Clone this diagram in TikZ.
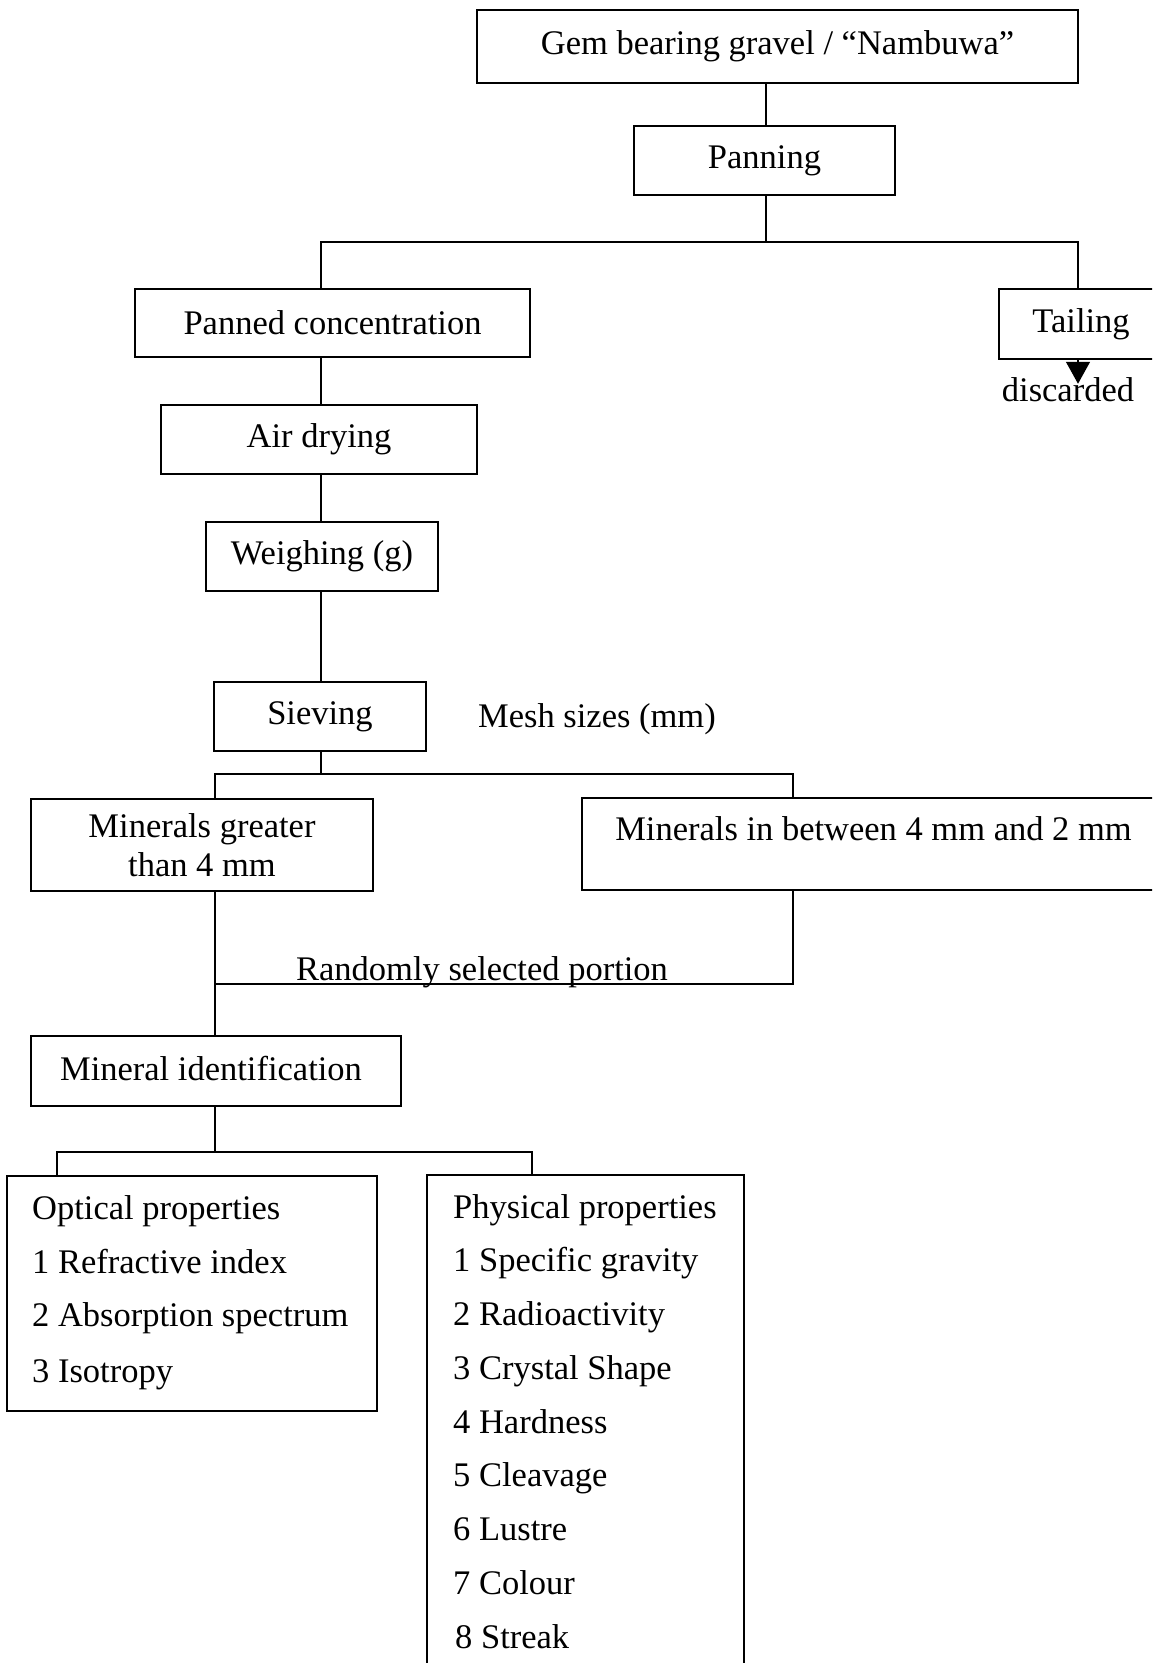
\documentclass[tikz,border=0pt]{standalone}
\usepackage{fontspec}
\setmainfont{Liberation Serif}
\usetikzlibrary{arrows.meta}
\begin{document}
\begin{tikzpicture}[x=1pt,y=-1pt,
  every node/.style={font=\fontsize{34.5}{40}\selectfont, inner sep=0pt},
  box/.style={draw, line width=1.5pt},
  conn/.style={line width=1.5pt},
  item/.style={anchor=base west}]
\useasboundingbox (0,0) rectangle (1152,1663);
\clip (0,0) rectangle (1152,1663);
\fill[white] (0,0) rectangle (1152,1663);

% boxes
\node[box, minimum width=601pt, minimum height=73pt] (gem) at (777.5,46.5) {Gem bearing gravel / “Nambuwa”};
\node[box, minimum width=261pt, minimum height=69pt] (pan) at (764.5,160.5) {Panning};
\node[box, minimum width=395pt, minimum height=68pt] (pc) at (332.5,323) {Panned concentration};
\node[box, minimum width=164pt, minimum height=70pt] (tail) at (1081,324) {Tailing};
\node (disc) at (1068,390) {discarded};
\node[box, minimum width=316pt, minimum height=69pt] (air) at (319,439.5) {Air drying};
\node[box, minimum width=232pt, minimum height=69pt] (wei) at (322,556.5) {Weighing (g)};
\node[box, minimum width=212pt, minimum height=69pt] (sie) at (320,716.5) {Sieving};
\node (mesh) at (597,719) {Mesh sizes (mm)};
\node[box, minimum width=342pt, minimum height=92pt, align=center] (mg) at (202,845) {Minerals greater\\[-1pt]than 4 mm};
\node[box, minimum width=583pt, minimum height=92pt] (mbx) at (873.5,844) {};
\node (mbt) at (873.5,829) {Minerals in between 4 mm and 2 mm};
\node (rand) at (482,972) {Randomly selected portion};
\node[box, minimum width=370pt, minimum height=70pt] (mi) at (216,1071) {};
\node (mit) at (211,1069) {Mineral identification};
\node[box, minimum width=370pt, minimum height=235pt] (opt) at (192,1293.5) {};
\node[box, minimum width=317pt, minimum height=525pt] (phy) at (585.5,1437.5) {};

% optical list
\node[item] (o0) at (32,1219) {Optical properties};
\node[item] (o1) at (32,1273) {1 Refractive index};
\node[item] (o2) at (32,1326) {2 Absorption spectrum};
\node[item] (o3) at (32,1382) {3 Isotropy};

% physical list
\node[item] (p0) at (453,1218) {Physical properties};
\node[item] (p1) at (453,1271.75) {1 Specific gravity};
\node[item] (p2) at (453,1325.5) {2 Radioactivity};
\node[item] (p3) at (453,1379.25) {3 Crystal Shape};
\node[item] (p4) at (453,1433) {4 Hardness};
\node[item] (p5) at (453,1486.75) {5 Cleavage};
\node[item] (p6) at (453,1540.5) {6 Lustre};
\node[item] (p7) at (453,1594.25) {7 Colour};
\node[item] (p8) at (455,1648) {8 Streak};

% junction coordinates
\coordinate (j1) at (766,242);
\coordinate (jl) at (321,242);
\coordinate (jr) at (1078,242);
\coordinate (s1) at (321,774);
\coordinate (sl) at (215,774);
\coordinate (sr) at (793,774);
\coordinate (r1) at (793,984);
\coordinate (r2) at (215,984);
\coordinate (m1) at (215,1152);
\coordinate (ml) at (57,1152);
\coordinate (mr) at (532,1152);

% connectors
\draw[conn] (j1 |- gem.south) -- (j1 |- pan.north);
\draw[conn] (j1 |- pan.south) -- (j1);
\draw[conn] (jl |- pc.north) -- (jl) -- (jr) -- (jr |- tail.north);
\draw[conn, -{Triangle[length=22pt,width=24pt]}] (jr |- tail.south) -- ++(0,24);
\draw[conn] (jl |- pc.south) -- (jl |- air.north);
\draw[conn] (jl |- air.south) -- (jl |- wei.north);
\draw[conn] (jl |- wei.south) -- (jl |- sie.north);
\draw[conn] (s1 |- sie.south) -- (s1);
\draw[conn] (sl |- mg.north) -- (sl) -- (sr) -- (sr |- mbx.north);
\draw[conn] (sl |- mg.south) -- (sl |- mi.north);
\draw[conn] (sr |- mbx.south) -- (r1) -- (r2);
\draw[conn] (m1 |- mi.south) -- (m1);
\draw[conn] (ml |- opt.north) -- (ml) -- (mr) -- (mr |- phy.north);
\end{tikzpicture}
\end{document}
